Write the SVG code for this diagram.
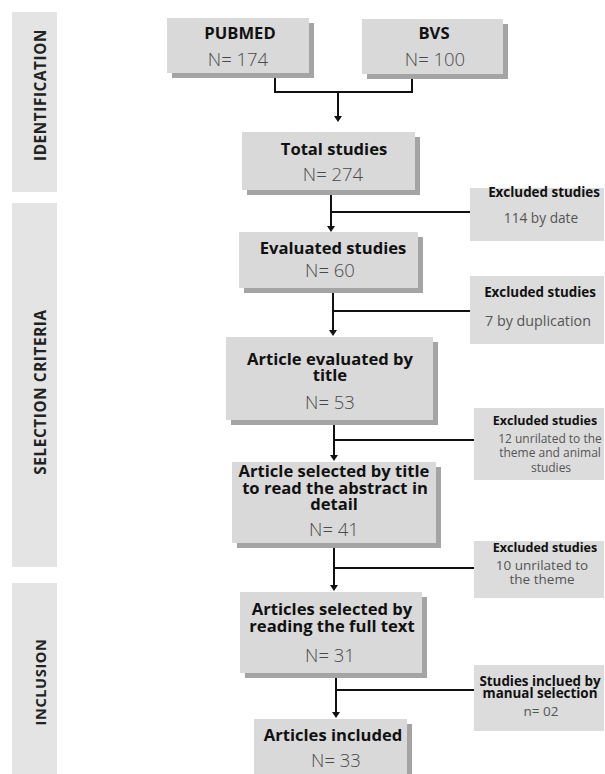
<svg xmlns="http://www.w3.org/2000/svg" width="605" height="774" viewBox="0 0 605 774">
<defs>
<style>
.bar{fill:#e4e4e4}
.box{fill:#d9d9d9}
.sh{fill:#a4a4a4}
.ex{fill:#dcdcdc}
.t{font-family:"Open Sans","Noto Sans","Liberation Sans",sans-serif;font-weight:700;font-size:16.6px;fill:#111;text-anchor:middle}
.n{font-family:"Open Sans","Noto Sans","Liberation Sans",sans-serif;font-weight:300;font-size:18.5px;fill:#4a4a4a;text-anchor:middle}
.et{font-family:"Open Sans","Noto Sans","Liberation Sans",sans-serif;font-weight:700;font-size:13.4px;fill:#111;text-anchor:middle}
.es{font-family:"Open Sans","Noto Sans","Liberation Sans",sans-serif;font-weight:400;font-size:13.5px;fill:#555;text-anchor:middle}
.side{font-family:"Open Sans","Noto Sans","Liberation Sans",sans-serif;font-weight:700;font-size:15.3px;fill:#222;text-anchor:middle;letter-spacing:0.6px}
.ln{fill:none;stroke:#111;stroke-width:2}
.ah{fill:#111}
</style>
</defs>

<g id="side-identification">
<rect class="bar" x="12" y="12" width="45" height="180"/>
<text class="side" transform="translate(40,95) rotate(-90)" x="0" y="0" dominant-baseline="central">IDENTIFICATION</text>
</g>
<g id="side-selection">
<rect class="bar" x="12" y="203" width="45" height="364"/>
<text class="side" transform="translate(40,392) rotate(-90)" x="0" y="0" dominant-baseline="central">SELECTION CRITERIA</text>
</g>
<g id="side-inclusion">
<rect class="bar" x="12" y="583" width="45" height="191"/>
<text class="side" transform="translate(40,682) rotate(-90)" x="0" y="0" dominant-baseline="central" style="font-size:14.6px">INCLUSION</text>
</g>

<g id="connectors">
<path class="ln" d="M275,74 V92 H412 V74"/>
<path class="ln" d="M338,92 V118"/>
<path class="ah" d="M334,116 L342,116 L338,122 Z"/>
<path class="ln" d="M331,193 V228 M331,212 H470"/>
<path class="ah" d="M327,226 L335,226 L331,232 Z"/>
<path class="ln" d="M333,292 V332 M333,311 H470"/>
<path class="ah" d="M329,330 L337,330 L333,336 Z"/>
<path class="ln" d="M334,424 V457 M334,440 H474"/>
<path class="ah" d="M330,455 L338,455 L334,461 Z"/>
<path class="ln" d="M334,547 V587 M334,568 H474"/>
<path class="ah" d="M330,585 L338,585 L334,591 Z"/>
<path class="ln" d="M336,677 V714 M336,690 H474"/>
<path class="ah" d="M332,712 L340,712 L336,718 Z"/>
</g>

<g id="pubmed">
<rect class="sh" x="172" y="23" width="142" height="55"/>
<rect class="box" x="167" y="18" width="142" height="55"/>
<text class="t" x="240" y="39">PUBMED</text>
<text class="n" x="238" y="66">N= 174</text>
</g>
<g id="bvs">
<rect class="sh" x="367" y="24" width="141" height="55"/>
<rect class="box" x="362" y="19" width="141" height="55"/>
<text class="t" x="434" y="39">BVS</text>
<text class="n" x="435" y="66">N= 100</text>
</g>
<g id="total">
<rect class="sh" x="247" y="137" width="173" height="58"/>
<rect class="box" x="242" y="132" width="173" height="58"/>
<text class="t" x="334" y="155">Total studies</text>
<text class="n" x="333" y="181">N= 274</text>
</g>
<g id="excl1">
<rect class="ex" x="470" y="188" width="134" height="53"/>
<text class="et" x="544" y="197">Excluded studies</text>
<text class="es" x="541" y="223" style="font-size:13.7px">114 by date</text>
</g>
<g id="evaluated">
<rect class="sh" x="244" y="237" width="179" height="56"/>
<rect class="box" x="239" y="232" width="179" height="56"/>
<text class="t" x="333" y="254">Evaluated studies</text>
<text class="n" x="330" y="277">N= 60</text>
</g>
<g id="excl2">
<rect class="ex" x="470" y="276" width="134" height="68"/>
<text class="et" x="540" y="297">Excluded studies</text>
<text class="es" x="538" y="326" style="font-size:14.3px">7 by duplication</text>
</g>
<g id="art-eval">
<rect class="sh" x="231" y="342" width="207" height="83"/>
<rect class="box" x="226" y="337" width="207" height="83"/>
<text class="t" x="330" y="365">Article evaluated by<tspan x="330" dy="16">title</tspan></text>
<text class="n" x="330" y="409">N= 53</text>
</g>
<g id="excl3">
<rect class="ex" x="474" y="408" width="130" height="72"/>
<text class="et" x="545" y="425" style="font-size:12.5px">Excluded studies</text>
<text class="es" x="550" y="443" style="font-size:12px">12 unrilated to the<tspan x="550" dy="14">theme and animal</tspan><tspan x="551" dy="15">studies</tspan></text>
</g>
<g id="art-sel">
<rect class="sh" x="237" y="467" width="204" height="81"/>
<rect class="box" x="232" y="462" width="204" height="81"/>
<text class="t" x="334" y="477">Article selected by title<tspan x="335" dy="17">to read the abstract in</tspan><tspan x="334" dy="16">detail</tspan></text>
<text class="n" x="334" y="536">N= 41</text>
</g>
<g id="excl4">
<rect class="ex" x="474" y="541" width="130" height="57"/>
<text class="et" x="545" y="552" style="font-size:12.5px">Excluded studies</text>
<text class="es" x="542" y="570">10 unrilated to<tspan x="542" dy="14">the theme</tspan></text>
</g>
<g id="art-full">
<rect class="sh" x="245" y="597" width="182" height="81"/>
<rect class="box" x="240" y="592" width="182" height="81"/>
<text class="t" x="332" y="615">Articles selected by<tspan x="332" dy="17">reading the full text</tspan></text>
<text class="n" x="330" y="662">N= 31</text>
</g>
<g id="manual">
<rect class="ex" x="474" y="665" width="130" height="66"/>
<text class="et" x="540" y="686">Studies inclued by<tspan x="540" dy="12">manual selection</tspan></text>
<text class="es" x="541" y="716">n= 02</text>
</g>
<g id="included">
<rect class="sh" x="259" y="724" width="153" height="60"/>
<rect class="box" x="254" y="719" width="153" height="60"/>
<text class="t" x="333" y="741">Articles included</text>
<text class="n" x="336" y="767">N= 33</text>
</g>
</svg>
